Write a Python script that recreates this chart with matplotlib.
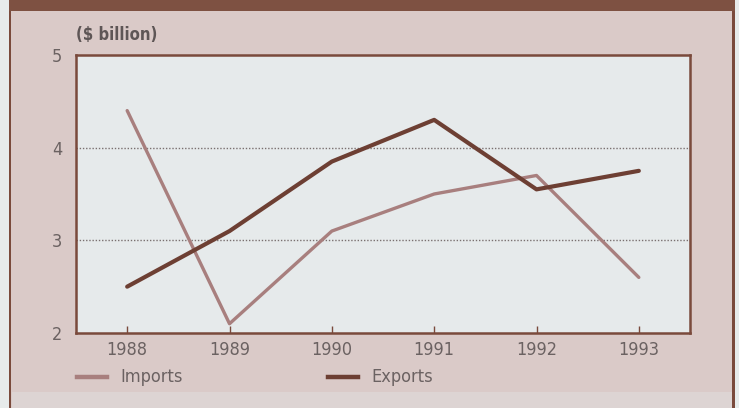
import matplotlib
matplotlib.use("Agg")
import matplotlib.pyplot as plt
from matplotlib.patches import Rectangle
from matplotlib.lines import Line2D

years = [1988, 1989, 1990, 1991, 1992, 1993]
imports = [4.4, 2.1, 3.1, 3.5, 3.7, 2.6]
exports = [2.5, 3.1, 3.85, 4.3, 3.55, 3.75]
y_ticks = [2, 3, 4, 5]
unit_label = "($ billion)"

panel_bg = "#dacac8"
plot_bg = "#e6eaeb"
brown = "#7a4a3c"
imp_color = "#a87f7e"
exp_color = "#6d3f33"
text_color = "#6b6262"

plt.rcParams["font.family"] = ["DejaVu Sans"]
plt.rcParams["font.stretch"] = "condensed"

W, H = 739, 408
fig = plt.figure(figsize=(W / 100, H / 100), dpi=100)
fig.patch.set_facecolor("#e7ebeb")

def px(x0, y0, x1, y1, **kw):
    # rectangle in pixel coords (top-left origin)
    fig.patches.append(Rectangle((x0 / W, 1 - y1 / H), (x1 - x0) / W, (y1 - y0) / H,
                                 transform=fig.transFigure, zorder=-5, **kw))

px(10, 0, 734, 408, facecolor=panel_bg, edgecolor="none")
px(12, 392, 732, 408, facecolor="#ddd4d3", edgecolor="none")
px(9, 0, 11, 408, facecolor=brown, edgecolor="none")
px(732, 0, 735, 408, facecolor=brown, edgecolor="none")
px(9, 0, 735, 11, facecolor="#7e5142", edgecolor="none")

ax = fig.add_axes([76 / W, 1 - 333 / H, (690 - 76) / W, (333 - 55) / H])
ax.set_zorder(5)
ax.set_facecolor(plot_bg)

ax.plot(years, imports, color=imp_color, lw=2.4, solid_capstyle="round", zorder=3)
ax.plot(years, exports, color=exp_color, lw=3.0, solid_capstyle="round", zorder=4)

ax.set_xlim(1987.5, 1993.5)
ax.set_ylim(2, 5)
ax.set_xticks(years)
ax.set_xticklabels([str(y) for y in years])
ax.set_yticks(y_ticks)
ax.set_yticklabels([str(v) for v in y_ticks])

for v in [3, 4]:
    ax.axhline(v, color="#7a7070", lw=1.0, ls=(0, (1, 1.3)), zorder=2)

for s in ax.spines.values():
    s.set_color(brown)
    s.set_linewidth(1.8)

ax.tick_params(axis="x", direction="in", length=5, width=1, color=brown,
               labelsize=13, labelcolor=text_color, pad=6)
ax.tick_params(axis="y", length=0, labelsize=13, labelcolor=text_color, pad=10)

fig.text(76 / W, 1 - 35 / H, unit_label, fontsize=12, fontweight="bold",
         color="#5e5656", va="center", ha="left")

# legend drawn by hand along the bottom
leg_y = 1 - 377 / H
fig.lines.append(Line2D([77 / W, 107 / W], [leg_y, leg_y], color=imp_color, lw=3.2,
                        transform=fig.transFigure))
fig.text(120 / W, leg_y, "Imports", fontsize=13, color=text_color, va="center")
fig.lines.append(Line2D([328 / W, 358 / W], [leg_y, leg_y], color=exp_color, lw=3.2,
                        transform=fig.transFigure))
fig.text(371 / W, leg_y, "Exports", fontsize=13, color=text_color, va="center")

fig.savefig("out.png", dpi=100, facecolor=fig.get_facecolor())
